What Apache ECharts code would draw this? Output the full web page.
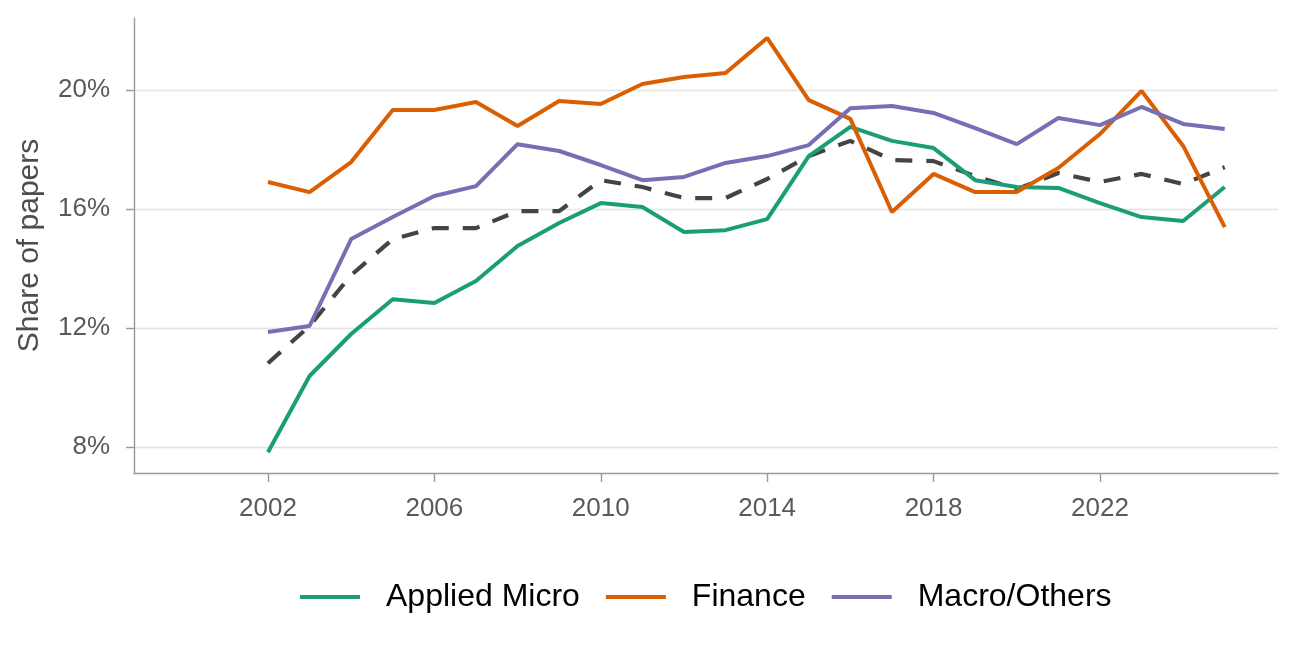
<!DOCTYPE html>
<html>
<head>
<meta charset="utf-8">
<script src="https://cdn.jsdelivr.net/npm/echarts@6/dist/echarts.min.js"></script>
<style>
html,body{margin:0;padding:0;background:#fff;}
#chart{width:1296px;height:648px;}
</style>
</head>
<body>
<div id="chart"></div>
<script>
const years = [2002,2003,2004,2005,2006,2007,2008,2009,2010,2011,2012,2013,2014,2015,2016,2017,2018,2019,2020,2021,2022,2023,2024,2025];
const appliedMicro = [7.83,10.39,11.80,12.97,12.84,13.58,14.76,15.53,16.20,16.07,15.23,15.29,15.66,17.78,18.76,18.29,18.05,16.97,16.74,16.71,16.20,15.73,15.60,16.74];
const finance = [16.91,16.57,17.58,19.33,19.33,19.60,18.79,19.63,19.53,20.20,20.44,20.57,21.75,19.66,19.03,15.90,17.18,16.57,16.57,17.38,18.52,19.97,18.12,15.39];
const macroOthers = [11.87,12.07,14.99,15.73,16.44,16.77,18.18,17.95,17.48,16.97,17.08,17.55,17.78,18.15,19.39,19.46,19.23,18.72,18.18,19.06,18.82,19.43,18.86,18.69];
const overall = [10.82,12.07,13.78,14.99,15.36,15.36,15.93,15.93,16.97,16.74,16.37,16.37,17.01,17.78,18.29,17.65,17.61,17.11,16.67,17.21,16.91,17.18,16.84,17.41];
const xTicks = [2002,2006,2010,2014,2018,2022];
const yTicks = [8,12,16,20];

const pairs = arr => years.map((y,i)=>[y,arr[i]]);
const font = 'Liberation Sans, Arial, sans-serif';
const chart = echarts.init(document.getElementById('chart'), null, {renderer:'canvas'});
chart.setOption({
  animation:false,
  backgroundColor:'#fff',
  grid:{left:134,right:18,top:18,bottom:175,containLabel:false},
  xAxis:{
    type:'value', min:1998.78, max:2026.28,
    axisLine:{show:true,lineStyle:{color:'#999',width:1.4}},
    axisTick:{show:true,length:9,customValues:xTicks,lineStyle:{color:'#999',width:1.4}},
    axisLabel:{customValues:xTicks,margin:23,fontSize:26,color:'#5a5a5a',fontFamily:font,formatter:v=>String(v)},
    splitLine:{show:false}
  },
  yAxis:{
    type:'value', min:7.13, max:22.42,
    name:'Share of papers', nameLocation:'middle', nameGap:89,
    nameTextStyle:{fontSize:30,color:'#4d4d4d',fontFamily:font},
    axisLine:{show:true,lineStyle:{color:'#999',width:1.4}},
    axisTick:{show:true,length:8,customValues:yTicks,lineStyle:{color:'#999',width:1.4}},
    axisLabel:{customValues:yTicks,margin:24,fontSize:26,color:'#5a5a5a',fontFamily:font,formatter:v=>Math.round(v)+'%'},
    splitLine:{show:true,lineStyle:{color:'#e3e3e3',width:1.4}}
  },
  legend:{
    data:['Applied Micro','Finance','Macro/Others'],
    left:295, top:574, itemWidth:60, itemHeight:4, itemGap:26, icon:'rect',
    textStyle:{fontSize:32,color:'#000',fontFamily:font,padding:[0,0,0,21],lineHeight:36}
  },
  series:[
    {name:'All',type:'line',data:pairs(overall),showSymbol:false,lineStyle:{color:'#444',width:4.2,type:[17,14],cap:'butt'},itemStyle:{color:'#444'}},
    {name:'Applied Micro',type:'line',data:pairs(appliedMicro),showSymbol:false,lineStyle:{color:'#1B9E77',width:4},itemStyle:{color:'#1B9E77'}},
    {name:'Finance',type:'line',data:pairs(finance),showSymbol:false,lineStyle:{color:'#D95F02',width:4},itemStyle:{color:'#D95F02'}},
    {name:'Macro/Others',type:'line',data:pairs(macroOthers),showSymbol:false,lineStyle:{color:'#7570B3',width:4},itemStyle:{color:'#7570B3'}}
  ]
});
</script>
</body>
</html>
